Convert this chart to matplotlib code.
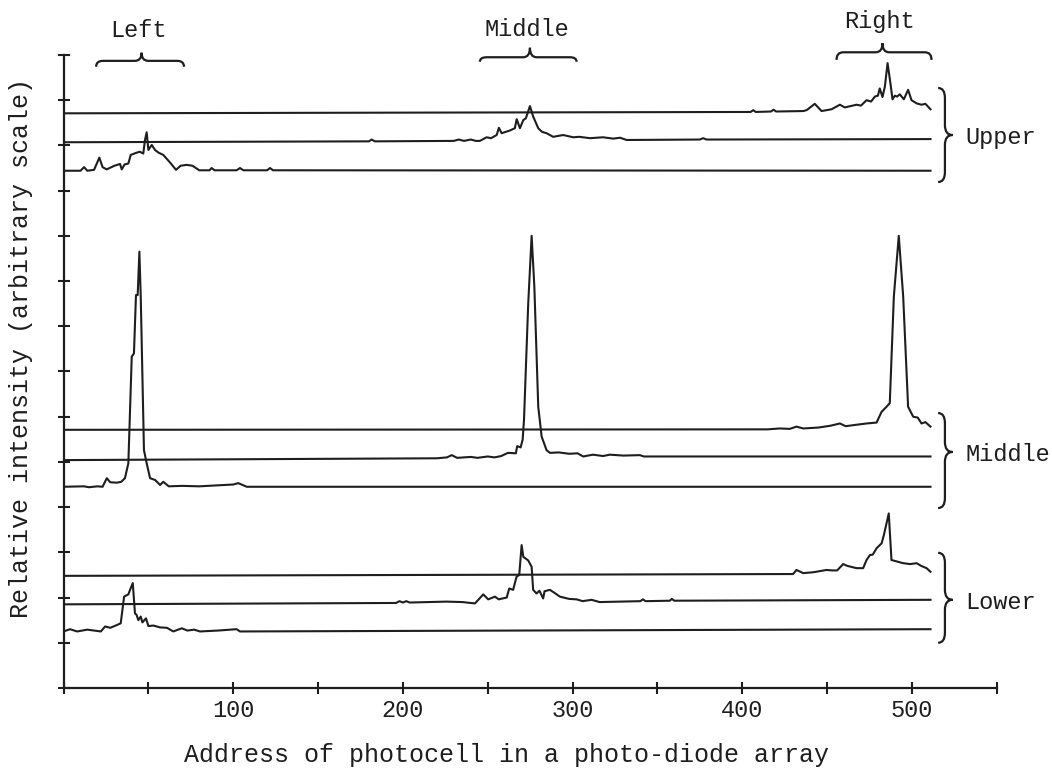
import numpy as np
import matplotlib
matplotlib.use("Agg")
import matplotlib.pyplot as plt
from matplotlib.path import Path
import matplotlib.patches as patches

# scanned traces, (photocell address, relative intensity)
upper_left = [(0, 11.44), (10, 11.44), (12.1, 11.52), (14, 11.44), (18, 11.46), (21.1, 11.73),
              (23, 11.52), (25.4, 11.47), (30, 11.55), (33.3, 11.59), (34.3, 11.47), (36, 11.58),
              (38.2, 11.6), (39.6, 11.79), (43.1, 11.84), (45, 11.86), (47, 11.82), (48, 12.12),
              (49, 12.29), (50, 11.9), (52, 12.01), (53.9, 11.9), (56, 11.84), (58.8, 11.79),
              (62.8, 11.62), (66.3, 11.46), (69, 11.55), (72.6, 11.57), (76, 11.55), (80, 11.45),
              (86, 11.45), (87.3, 11.5), (89, 11.45), (102, 11.45), (104, 11.5), (106, 11.45),
              (120, 11.45), (121.7, 11.5), (123.5, 11.45), (511, 11.44)]
upper_middle = [(0, 12.07), (180, 12.09), (181.6, 12.13), (183.5, 12.09), (230, 12.1), (233, 12.13),
                (236, 12.1), (240, 12.13), (243, 12.1), (245.4, 12.1), (249.4, 12.18), (252, 12.16),
                (255.3, 12.23), (256.6, 12.39), (258.2, 12.27), (263.1, 12.33), (266, 12.38),
                (267.1, 12.58), (269, 12.38), (271, 12.56), (272.5, 12.6), (274.9, 12.87),
                (276.8, 12.64), (279.8, 12.38), (282, 12.3), (284.7, 12.27), (288.6, 12.19),
                (294.5, 12.23), (300.4, 12.18), (304, 12.19), (310.3, 12.16), (318, 12.18),
                (324, 12.15), (328, 12.17), (331.9, 12.12), (375, 12.13), (377, 12.16),
                (379, 12.13), (511, 12.14)]
upper_right = [(0, 12.71), (405, 12.74), (406.5, 12.78), (408, 12.74), (417, 12.75), (418.5, 12.79),
               (420, 12.75), (436, 12.76), (438, 12.78), (442.8, 12.92), (446.8, 12.76), (452.7, 12.8),
               (457.6, 12.9), (460.5, 12.84), (467.4, 12.9), (470, 12.88), (473.3, 13.0), (476, 12.97),
               (478.2, 13.08), (480, 13.1), (481.1, 13.26), (482.7, 13.07), (484.1, 13.3),
               (485.7, 13.82), (487.4, 13.37), (488.6, 13.02), (490, 13.1), (491.3, 13.08),
               (492.9, 13.13), (495.3, 13.02), (497.8, 13.23), (499.8, 13.0), (502.8, 12.93),
               (505.7, 12.9), (508, 12.92), (511, 12.8)]

middle_left = [(0, 4.45), (12, 4.46), (15, 4.44), (20, 4.46), (23, 4.45), (25.5, 4.64), (27.5, 4.55),
               (31.3, 4.54), (34, 4.56), (36.2, 4.64), (38.2, 4.97), (40.2, 7.33), (41.5, 7.4),
               (42.7, 8.69), (43.7, 8.69), (44.7, 9.65), (45.5, 8.66), (47.4, 5.26), (49, 4.97),
               (51, 4.64), (54, 4.6), (56.9, 4.49), (58.8, 4.56), (62, 4.46), (70, 4.47), (80, 4.46),
               (90, 4.48), (100, 4.5), (103, 4.53), (108, 4.45), (511, 4.45)]
middle_middle = [(0, 5.04), (220, 5.08), (226, 5.1), (228.8, 5.15), (232, 5.09), (240, 5.11),
                 (244, 5.09), (250, 5.12), (254, 5.1), (258, 5.13), (261.9, 5.2), (266.6, 5.19),
                 (267.4, 5.35), (269.4, 5.32), (270.6, 5.49), (271.4, 5.93), (273.9, 8.51),
                 (275.9, 10.0), (277.5, 8.88), (279.8, 6.22), (281.8, 5.56), (284.7, 5.26),
                 (286.7, 5.2), (292, 5.21), (298, 5.18), (303, 5.19), (306.3, 5.12), (312, 5.16),
                 (318, 5.13), (322, 5.16), (330, 5.14), (339.7, 5.15), (342, 5.12), (511, 5.12)]
middle_right = [(0, 5.71), (415, 5.72), (422.2, 5.74), (428, 5.73), (432, 5.78), (436, 5.74),
                (445, 5.76), (452, 5.8), (457.6, 5.85), (461, 5.79), (467, 5.82), (473.3, 5.85),
                (479.2, 5.87), (482.2, 6.11), (485.1, 6.22), (487, 6.3), (489.4, 8.66), (492.3, 10.0),
                (494.9, 8.66), (497.8, 6.22), (500.8, 6.0), (503.5, 5.98), (505.7, 5.85),
                (508, 5.88), (511, 5.78)]

lower_left = [(0, 1.25), (3.8, 1.3), (8, 1.25), (14, 1.29), (18, 1.27), (22, 1.25), (24.5, 1.36),
              (27.5, 1.33), (31.3, 1.39), (33.7, 1.43), (35.7, 2.02), (38.2, 2.07), (39.2, 2.17),
              (40.8, 2.32), (42.1, 1.65), (43, 1.62), (44.1, 1.5), (45.5, 1.58), (46.5, 1.45),
              (48.6, 1.54), (50, 1.37), (53, 1.38), (56.9, 1.34), (61, 1.33), (64.7, 1.25),
              (69.7, 1.32), (73, 1.27), (77, 1.29), (80.4, 1.25), (91, 1.27), (102, 1.3),
              (104, 1.25), (511, 1.3)]
lower_middle = [(0, 1.85), (196, 1.88), (198, 1.92), (200, 1.89), (202, 1.92), (204, 1.89),
                (225.8, 1.91), (235, 1.9), (242.5, 1.87), (247.4, 2.07), (250.3, 1.96), (254.3, 2.02),
                (256.5, 1.96), (261.2, 2.0), (262.7, 2.2), (265, 2.17), (267, 2.46), (268.6, 2.5),
                (270, 3.16), (271, 2.9), (273.9, 2.82), (275.9, 2.68), (276.8, 2.17), (278.8, 2.09),
                (280.5, 2.15), (282.7, 1.98), (283.5, 2.14), (286.7, 2.17), (289.5, 2.1),
                (292.6, 2.02), (298, 1.97), (302.4, 1.96), (306, 1.92), (311.2, 1.95), (316, 1.9),
                (340, 1.92), (341.5, 1.96), (343, 1.92), (357.4, 1.93), (358.5, 1.97), (360, 1.93),
                (511, 1.95)]
lower_right = [(0, 2.48), (430, 2.52), (432, 2.61), (436, 2.54), (442, 2.56), (449.7, 2.61),
               (453, 2.6), (456, 2.6), (459.5, 2.74), (462, 2.7), (467.4, 2.65), (471.3, 2.65),
               (473.3, 2.83), (475.3, 2.94), (477, 2.95), (479.2, 3.09), (482.2, 3.2), (483.5, 3.38),
               (486.4, 3.86), (488, 2.83), (491, 2.8), (494.9, 2.76), (499, 2.74), (502.8, 2.76),
               (505.5, 2.7), (508.7, 2.65), (511, 2.57)]

traces = [upper_left, upper_middle, upper_right,
          middle_left, middle_middle, middle_right,
          lower_left, lower_middle, lower_right]

# position labels over the top: (start, end, tip x, end y, flat y, tip y, label y)
position_names = ["Left", "Middle", "Right"]
position_spans = [(19.2, 71.0, 46.0, 13.74, 13.87, 14.05, 14.55),
                  (245.4, 302.4, 274.9, 13.85, 13.95, 14.16, 14.57),
                  (455.6, 511.6, 482.7, 13.89, 14.06, 14.26, 14.74)]
# group labels on the right: (bottom, top, tip)
group_names = ["Upper", "Middle", "Lower"]
group_spans = [(11.19, 13.27, 12.23), (3.98, 6.08, 5.22), (1.0, 2.99, 1.95)]

INK = "#1e1e1e"
plt.rcParams["font.family"] = ["Liberation Mono", "DejaVu Sans Mono"]


def hbrace(ax, x0, x1, xt, y_end, y_mid, y_tip, d):
    verts = [(x0, y_end), (x0, y_mid), (x0 + d, y_mid),
             (xt - d, y_mid), (xt, y_mid), (xt, y_tip),
             (xt, y_mid), (xt + d, y_mid),
             (x1 - d, y_mid), (x1, y_mid), (x1, y_end)]
    codes = [Path.MOVETO, Path.CURVE3, Path.CURVE3,
             Path.LINETO, Path.CURVE3, Path.CURVE3,
             Path.CURVE3, Path.CURVE3,
             Path.LINETO, Path.CURVE3, Path.CURVE3]
    ax.add_patch(patches.PathPatch(Path(verts, codes), fill=False, lw=1.6,
                                   ec=INK, clip_on=False))


def vbrace(ax, y0, y1, yt, x_end, x_mid, x_tip, d):
    verts = [(x_end, y0), (x_mid, y0), (x_mid, y0 + d),
             (x_mid, yt - d), (x_mid, yt), (x_tip, yt),
             (x_mid, yt), (x_mid, yt + d),
             (x_mid, y1 - d), (x_mid, y1), (x_end, y1)]
    codes = [Path.MOVETO, Path.CURVE3, Path.CURVE3,
             Path.LINETO, Path.CURVE3, Path.CURVE3,
             Path.CURVE3, Path.CURVE3,
             Path.LINETO, Path.CURVE3, Path.CURVE3]
    ax.add_patch(patches.PathPatch(Path(verts, codes), fill=False, lw=1.6,
                                   ec=INK, clip_on=False))


fig = plt.figure(figsize=(10.52, 7.68), dpi=100)
ax = fig.add_axes([0.0604, 0.1042, 0.887, 0.8242])

for tr in traces:
    xy = np.array(tr)
    ax.plot(xy[:, 0], xy[:, 1], color=INK, lw=1.5)

ax.set_xlim(0, 550)
ax.set_ylim(0, 14)
ax.spines["top"].set_visible(False)
ax.spines["right"].set_visible(False)
for s in ["left", "bottom"]:
    ax.spines[s].set_linewidth(1.6)
    ax.spines[s].set_color(INK)

xt = np.arange(0, 551, 50)
ax.set_xticks(xt)
ax.set_xticklabels([str(v) if v % 100 == 0 and 0 < v <= 500 else "" for v in xt])
ax.set_yticks(np.arange(0, 15, 1))
ax.set_yticklabels([])
ax.tick_params(direction="inout", length=8, width=1.5, color=INK,
               labelsize=17, labelcolor=INK, pad=4)

for name, (x0, x1, tip, y_end, y_mid, y_tip, y_lab) in zip(position_names, position_spans):
    hbrace(ax, x0, x1, tip, y_end, y_mid, y_tip, 4)
    ax.text(tip - 2, y_lab, name, ha="center", va="center", fontsize=17, color=INK)

for name, (y0, y1, tip) in zip(group_names, group_spans):
    vbrace(ax, y0, y1, tip, 515.5, 519.5, 524.0, 0.22)
    ax.text(531.5, tip - 0.05, name, ha="left", va="center", fontsize=17, color=INK)

fig.text(506 / 1052, 1 - 755 / 768, "Address of photocell in a photo-diode array",
         ha="center", va="center", fontsize=18, color=INK)
fig.text(21 / 1052, 1 - 348 / 768, "Relative intensity (arbitrary scale)",
         ha="center", va="center", rotation=90, fontsize=18, color=INK)

fig.savefig("out.png", dpi=100, facecolor="white")
